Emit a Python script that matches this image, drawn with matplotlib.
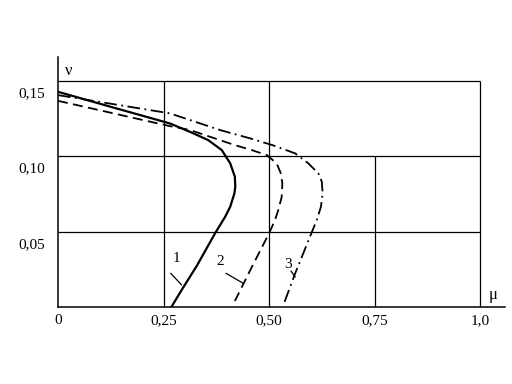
import numpy as np
import matplotlib
matplotlib.use("Agg")
import matplotlib.pyplot as plt
from matplotlib.transforms import ScaledTranslation

plt.rcParams['font.family'] = ['Liberation Serif', 'DejaVu Serif']

# curve 1 (solid)
mu1 = [0, 0.128, 0.265, 0.313, 0.356, 0.388, 0.408, 0.419, 0.420, 0.418,
       0.408, 0.396, 0.384, 0.372, 0.330, 0.293, 0.269]
nu1 = [0.1429, 0.1327, 0.1219, 0.1163, 0.1108, 0.1042, 0.0954, 0.0865, 0.0800, 0.0755,
       0.0666, 0.0599, 0.0544, 0.0489, 0.0279, 0.0113, 0.0002]

# curve 2 (dashed)
mu2 = [0, 0.128, 0.265, 0.313, 0.419, 0.459, 0.4945, 0.518, 0.528, 0.5315,
       0.530, 0.522, 0.514, 0.500, 0.458, 0.419]
nu2 = [0.1369, 0.1288, 0.1201, 0.1175, 0.1075, 0.1042, 0.1009, 0.0954, 0.0887, 0.0821,
       0.0732, 0.0644, 0.0577, 0.0489, 0.0259, 0.004]

# curve 3 (dash-dot)
mu3 = [0, 0.265, 0.384, 0.455, 0.508, 0.562, 0.593, 0.617, 0.625, 0.627,
       0.623, 0.613, 0.597, 0.562, 0.534]
nu3 = [0.1407, 0.1286, 0.1175, 0.112, 0.1075, 0.1020, 0.0954, 0.0887, 0.0832, 0.0755,
       0.0666, 0.0577, 0.0467, 0.0224, 0.0013]

xticks = [0, 0.25, 0.5, 0.75, 1.0]
xlabels = ["0", "0,25", "0,50", "0,75", "1,0"]
yticks = [0.05, 0.10, 0.15]
ylabels = ["0,05", "0,10", "0,15"]

fig = plt.figure(figsize=(5.12, 3.84), dpi=100)
ax = fig.add_axes([0.1133, 0.2005, 0.873, 0.651])
ax.set_xlim(0, 1.059)
ax.set_ylim(0, 0.166)

# grid (partial, as in the drawing)
ax.hlines([0.05, 0.10, 0.15], 0, 1.0, color='black', lw=0.9)
ax.vlines([0.25, 0.5, 1.0], 0, 0.15, color='black', lw=0.9)
ax.vlines([0.75], 0, 0.10, color='black', lw=0.9)

ax.plot(mu1, nu1, color='black', lw=1.6)
ax.plot(mu2, nu2, color='black', lw=1.3, dashes=(5.5, 3))
ax.plot(mu3, nu3, color='black', lw=1.3, dashes=(7, 2.5, 1, 2.5))

# curve numbers with leader lines
for txt, tpos, a, b in [("1", (0.281, 0.0325), (0.267, 0.0224), (0.293, 0.0146)),
                        ("2", (0.384, 0.0301), (0.398, 0.0224), (0.439, 0.0157)),
                        ("3", (0.545, 0.0285), (0.552, 0.0239), (0.562, 0.0199))]:
    ax.text(tpos[0], tpos[1], txt, fontsize=11, ha='center', va='center')
    ax.annotate("", xy=b, xytext=a, arrowprops=dict(arrowstyle='-', lw=0.9, color='black',
                                                   shrinkA=0, shrinkB=0))

ax.text(0.016, 0.1565, "ν", fontsize=12, ha='left', va='center')
ax.text(1.031, 0.008, "μ", fontsize=12, ha='center', va='center')

for s in ['top', 'right']:
    ax.spines[s].set_visible(False)
for s in ['left', 'bottom']:
    ax.spines[s].set_linewidth(1.1)

ax.set_xticks(xticks)
ax.set_xticklabels(xlabels, fontsize=11)
ax.set_yticks(yticks)
ax.set_yticklabels(ylabels, fontsize=11)
ax.tick_params(length=0, pad=5)
ax.tick_params(axis='y', pad=9)

off = ScaledTranslation(0, -11 / 100, fig.dpi_scale_trans)
for lab in ax.get_yticklabels():
    lab.set_transform(lab.get_transform() + off)

fig.savefig("out.png", dpi=100)
